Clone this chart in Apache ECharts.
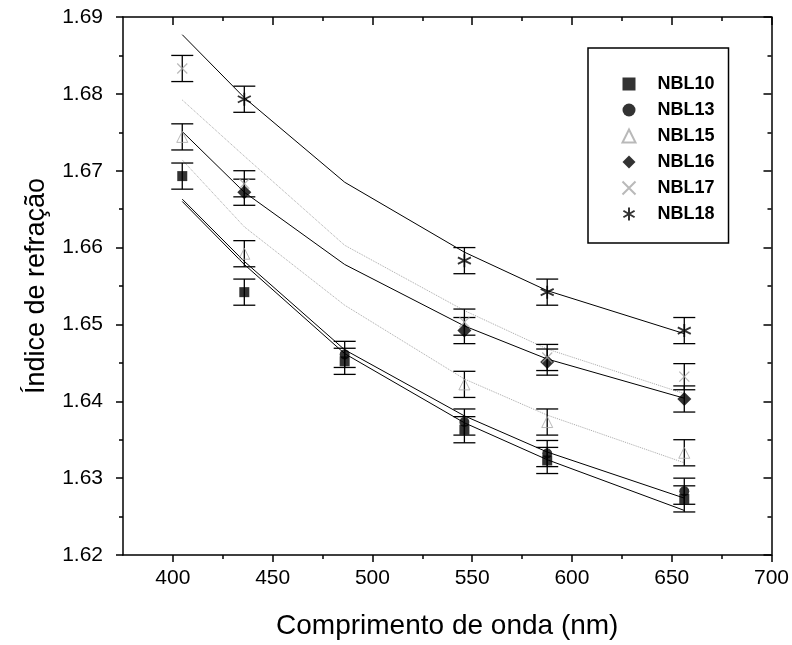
<!DOCTYPE html>
<html>
<head>
<meta charset="utf-8">
<script src="https://cdn.jsdelivr.net/npm/echarts@6/dist/echarts.min.js"></script>
<style>html,body{margin:0;padding:0;background:#fff}#c{width:792px;height:645px}</style>
</head>
<body>
<div id="c"></div>
<script>
// ---- data ----
const wavelengths = [404.7, 435.8, 486.1, 546.1, 587.6, 656.3];
const seriesNames = ['NBL10', 'NBL13', 'NBL15', 'NBL16', 'NBL17', 'NBL18'];
const nbl10 = [1.6693, 1.6542, 1.6452, 1.6363, 1.6323, 1.6273];
const nbl13 = [null, null, 1.6461, 1.6373, 1.6332, 1.6283];
const nbl15 = [1.6744, 1.6592, null, 1.6422, 1.6373, 1.6333];
const nbl16 = [null, 1.6672, null, 1.6492, 1.6451, 1.6403];
const nbl17 = [1.6833, 1.6683, null, 1.6503, 1.6457, 1.6432];
const nbl18 = [null, 1.6793, null, 1.6583, 1.6542, 1.6492];
const errorBars = [0.0017, 0.0017, 0.0017, 0.0017, 0.0017, 0.0017];
// fitted curves evaluated at the same wavelengths
const fit10 = [1.6660, 1.6578, 1.6462, 1.6372, 1.6324, 1.6258];
const fit13 = [1.6663, 1.6582, 1.6467, 1.6381, 1.6334, 1.6274];
const fit15 = [1.6714, 1.6627, 1.6525, 1.6429, 1.6382, 1.6320];
const fit16 = [1.6751, 1.6672, 1.6578, 1.6498, 1.6455, 1.6404];
const fit17 = [1.6792, 1.6719, 1.6603, 1.6518, 1.6468, 1.6410];
const fit18 = [1.6877, 1.6795, 1.6685, 1.6594, 1.6544, 1.6488];
// axis ticks
const xTicks = [400, 450, 500, 550, 600, 650, 700];
const xMinorTicks = [425, 475, 525, 575, 625, 675];
const yTicks = [1.62, 1.63, 1.64, 1.65, 1.66, 1.67, 1.68, 1.69];
const yMinorTicks = [1.625, 1.635, 1.645, 1.655, 1.665, 1.675, 1.685];

const values = [nbl10, nbl13, nbl15, nbl16, nbl17, nbl18];
const fits = [fit10, fit13, fit15, fit16, fit17, fit18];

const GRAY = '#a8a8a8';
const FONT = 'Liberation Sans, Arial, sans-serif';
const symbolStyles = [
  {symbol: 'rect', symbolSize: 10, itemStyle: {color: '#000'}},
  {symbol: 'circle', symbolSize: 10, itemStyle: {color: '#000'}},
  {symbol: 'triangle', symbolSize: 11, itemStyle: {color: 'rgba(0,0,0,0)', borderColor: GRAY, borderWidth: 1}},
  {symbol: 'diamond', symbolSize: 14, itemStyle: {color: '#000'}},
  {symbol: 'path://M0,0L10,10M10,0L0,10', symbolSize: 10, itemStyle: {color: 'none', borderColor: GRAY, borderWidth: 1.2}},
  {symbol: 'path://M5,0L5,10M0.7,2.5L9.3,7.5M0.7,7.5L9.3,2.5', symbolSize: 13, itemStyle: {color: 'none', borderColor: '#000', borderWidth: 1.8}}
];
const fitStyles = [
  {color: '#000', width: 1, type: 'solid'},
  {color: '#000', width: 1, type: 'solid'},
  {color: GRAY, width: 1, type: 'dotted'},
  {color: '#000', width: 1, type: 'solid'},
  {color: GRAY, width: 1, type: 'dotted'},
  {color: '#000', width: 1, type: 'solid'}
];

const series = [];
seriesNames.forEach((name, s) => {
  series.push({
    type: 'line', name: 'fit' + name, silent: true, symbol: 'none', z: 2,
    lineStyle: fitStyles[s], data: wavelengths.map((w, i) => [w, fits[s][i]])
  });
});
seriesNames.forEach((name, s) => {
  const data = [];
  wavelengths.forEach((w, i) => {
    if (values[s][i] != null) data.push([w, values[s][i] - errorBars[i], values[s][i] + errorBars[i]]);
  });
  series.push({
    type: 'custom', name: 'err' + name, silent: true, z: 3, data,
    renderItem: function (params, api) {
      const x = api.value(0);
      const lo = api.coord([x, api.value(1)]);
      const hi = api.coord([x, api.value(2)]);
      const hw = 11;
      const st = {stroke: '#000', lineWidth: 1.3};
      return {type: 'group', children: [
        {type: 'line', shape: {x1: lo[0], y1: lo[1], x2: hi[0], y2: hi[1]}, style: st},
        {type: 'line', shape: {x1: lo[0] - hw, y1: lo[1], x2: lo[0] + hw, y2: lo[1]}, style: st},
        {type: 'line', shape: {x1: hi[0] - hw, y1: hi[1], x2: hi[0] + hw, y2: hi[1]}, style: st}
      ]};
    }
  });
});
seriesNames.forEach((name, s) => {
  const data = [];
  wavelengths.forEach((w, i) => { if (values[s][i] != null) data.push([w, values[s][i]]); });
  series.push(Object.assign({type: 'scatter', name, z: 4, data}, symbolStyles[s]));
});

const lineStyle = {color: '#000', width: 1.5};
const baseX = {type: 'value', min: 375, max: 700, splitLine: {show: false}};
const baseY = {type: 'value', min: 1.62, max: 1.69, splitLine: {show: false}};

const option = {
  animation: false,
  backgroundColor: '#fff',
  grid: {left: 123, right: 20, top: 17, bottom: 88},
  xAxis: [
    Object.assign({}, baseX, {position: 'bottom', name: 'Comprimento de onda (nm)', nameLocation: 'middle', nameGap: 57,
      nameTextStyle: {fontFamily: FONT, fontSize: 28, color: '#000'},
      axisLine: {show: true, lineStyle},
      axisTick: {show: true, customValues: xTicks, length: 7, lineStyle: {color: '#000', width: 1.5}},
      axisLabel: {customValues: xTicks, margin: 13, fontFamily: FONT, fontSize: 21, color: '#000'}}),
    Object.assign({}, baseX, {position: 'bottom', axisLine: {show: false},
      axisTick: {show: true, customValues: xMinorTicks, length: 4, lineStyle: {color: '#000', width: 1.5}},
      axisLabel: {show: false}}),
    Object.assign({}, baseX, {position: 'top', axisLine: {show: true, lineStyle},
      axisTick: {show: true, inside: true, customValues: xTicks, length: 8, lineStyle: {color: '#000', width: 1.5}},
      axisLabel: {show: false}}),
    Object.assign({}, baseX, {position: 'top', axisLine: {show: false},
      axisTick: {show: true, inside: true, customValues: xMinorTicks, length: 4, lineStyle: {color: '#000', width: 1.5}},
      axisLabel: {show: false}})
  ],
  yAxis: [
    Object.assign({}, baseY, {position: 'left', name: 'Índice de refração', nameLocation: 'middle', nameGap: 73,
      nameTextStyle: {fontFamily: FONT, fontSize: 27, color: '#000'},
      axisLine: {show: true, lineStyle},
      axisTick: {show: true, customValues: yTicks, length: 7, lineStyle: {color: '#000', width: 1.5}},
      axisLabel: {customValues: yTicks, margin: 20, fontFamily: FONT, fontSize: 21, color: '#000',
        formatter: v => Number(v).toFixed(2)}}),
    Object.assign({}, baseY, {position: 'left', axisLine: {show: false},
      axisTick: {show: true, customValues: yMinorTicks, length: 4, lineStyle: {color: '#000', width: 1.5}},
      axisLabel: {show: false}}),
    Object.assign({}, baseY, {position: 'right', axisLine: {show: true, lineStyle},
      axisTick: {show: true, inside: true, customValues: yTicks, length: 8, lineStyle: {color: '#000', width: 1.5}},
      axisLabel: {show: false}}),
    Object.assign({}, baseY, {position: 'right', axisLine: {show: false},
      axisTick: {show: true, inside: true, customValues: yMinorTicks, length: 4, lineStyle: {color: '#000', width: 1.5}},
      axisLabel: {show: false}})
  ],
  legend: {
    data: seriesNames, orient: 'vertical', left: 588, top: 48,
    padding: [27, 14, 20, 32], itemGap: 8, itemWidth: 13, itemHeight: 13,
    borderColor: '#000', borderWidth: 1.5, backgroundColor: '#fff',
    selectedMode: false,
    textStyle: {fontFamily: FONT, fontSize: 18, fontWeight: 'bold', color: '#000', padding: [0, 0, 0, 17]}
  },
  series
};
const chart = echarts.init(document.getElementById('c'), null, {renderer: 'canvas'});
chart.setOption(option);
</script>
</body>
</html>
